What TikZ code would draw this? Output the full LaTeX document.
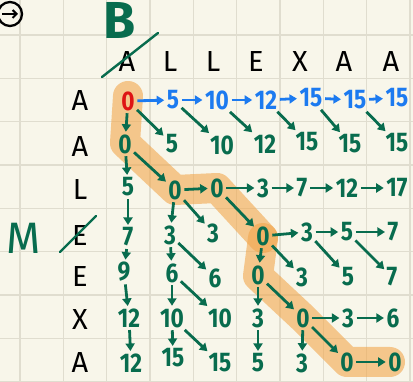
\documentclass[tikz,border=0pt]{standalone}
\usepackage{fontspec}
\setmainfont{Fira Sans}
\newfontfamily\numfont{Fira Sans}[FakeStretch=0.84]
\usetikzlibrary{arrows.meta}
\definecolor{paper}{RGB}{248,246,234}
\definecolor{gridc}{RGB}{224,221,207}
\definecolor{ink}{RGB}{8,108,78}
\definecolor{inkblue}{RGB}{28,122,240}
\definecolor{inkred}{RGB}{222,20,20}
\definecolor{hl}{RGB}{242,166,76}
\begin{document}
\begin{tikzpicture}[x=1pt,y=-1pt,
  gridline/.style={draw=gridc,line width=1.4pt},
  hlpath/.style={draw=hl,line width=30pt,line cap=round,line join=round,draw opacity=0.6},
  num/.style={font=\fontsize{27}{27}\numfont\bfseries,text=ink,inner sep=1.5pt},
  bnum/.style={num,text=inkblue},
  lbl/.style={font=\fontsize{29}{29}\selectfont,text=black,inner sep=1pt},
  garr/.style={draw=ink,line width=2.8pt,-{Triangle[length=7.5pt,width=9pt]},shorten <=1pt,shorten >=1pt},
  barr/.style={garr,draw=inkblue},
  slash/.style={draw=ink,line width=2.4pt,line cap=round}]
\useasboundingbox (0,0) rectangle (413,382);
\fill[paper] (0,0) rectangle (413,382);
\foreach \k in {0,...,9} {
  \draw[gridline] ({20+43.33*\k},0) -- ({20+43.33*\k},382);
  \draw[gridline] (0,{-8.3+43.33*\k}) -- (413,{-8.3+43.33*\k});
}
% highlighted path
\draw[hlpath] (128,96) -- (125,143) -- (175,190) -- (217,188) -- (263,238);
\draw[hlpath] (263,238) -- (258,276) -- (303,318) -- (347,362) -- (390,362);
% icon
\draw[line width=2.3pt] (10,14) circle (12);
\draw[line width=2pt,-{Straight Barb[length=4pt,width=8pt]}] (2,14) -- (18,14);
% handwritten green letters
\node[font=\fontsize{52}{52}\selectfont\bfseries,text=ink,inner sep=0pt] (B) at (120,20) {B};
\node[font=\fontsize{44}{44}\selectfont,text=ink] (M) at (24,238) {M};
% column headers
\foreach \n/\x/\t in {h1/127/A,h2/170/L,h3/213/L,h4/256/E,h5/300/X,h6/344/A,h7/391/A}
  \node[lbl] (\n) at (\x,62) {\t};
% row labels
\foreach \n/\y/\t in {v1/101/A,v2/147/A,v3/190/L,v4/236/E,v5/277/E,v6/320/X,v7/363/A}
  \node[lbl] (\n) at (80,\y) {\t};
\draw[slash] (102,77) -- (158,33);
\draw[slash] (60,252) -- (96,216);
% values
\node[num,text=inkred] (r1c1) at (128,101) {0};
\foreach \n/\x/\y/\t in {r1c2/173/100/5,r1c3/217/100/10,r1c4/266/100/12,r1c5/311/98/15,r1c6/355/100/15,r1c7/397/98/15}
  \node[bnum] (\n) at (\x,\y) {\t};
\foreach \n/\x/\y/\t in {
  r2c1/125/144/0,r2c2/172/144/5,r2c3/222/145/10,r2c4/265/144/12,r2c5/307/142/15,r2c6/350/144/15,r2c7/397/143/15,
  r3c1/128/187/5,r3c2/175/190/0,r3c3/217/188/0,r3c4/263/188/3,r3c5/302/188/7,r3c6/347/188/12,r3c7/397/188/17,
  r4c1/128/237/7,r4c2/170/235/3,r4c3/213/233/3,r4c4/263/236/0,r4c5/307/232/3,r4c6/347/232/5,r4c7/393/232/7,
  r5c1/124/272/9,r5c2/172/273/6,r5c3/215/278/6,r5c4/258/275/0,r5c5/302/277/3,r5c6/348/277/5,r5c7/392/277/7,
  r6c1/129/318/12,r6c2/172/318/10,r6c3/220/318/10,r6c4/258/318/3,r6c5/303/318/0,r6c6/348/318/3,r6c7/393/318/6,
  r7c1/131/363/12,r7c2/173/358/15,r7c3/220/363/15,r7c4/258/363/5,r7c5/302/363/3,r7c6/347/362/0,r7c7/395/362/0}
  \node[num] (\n) at (\x,\y) {\t};
% blue arrows
\foreach \a/\b in {r1c1/r1c2,r1c2/r1c3,r1c3/r1c4,r1c4/r1c5,r1c5/r1c6,r1c6/r1c7}
  \draw[barr] (\a) -- (\b);
% green arrows
\foreach \a/\b in {
  r1c1/r2c1,r1c1/r2c2,r1c2/r2c3,r1c3/r2c4,r1c4/r2c5,r1c5/r2c6,r1c6/r2c7,
  r2c1/r3c1,r2c1/r3c2,
  r3c2/r3c3,r3c3/r3c4,r3c4/r3c5,r3c5/r3c6,r3c6/r3c7,
  r3c1/r4c1,r3c2/r4c2,r3c2/r4c3,r3c3/r4c4,
  r4c4/r4c5,r4c5/r4c6,r4c6/r4c7,
  r4c1/r5c1,r4c2/r5c2,r4c2/r5c3,r4c4/r5c4,r4c4/r5c5,r4c5/r5c6,r4c6/r5c7,
  r5c1/r6c1,r5c2/r6c2,r5c2/r6c3,r5c4/r6c4,r5c4/r6c5,
  r6c5/r6c6,r6c6/r6c7,
  r6c1/r7c1,r6c2/r7c2,r6c2/r7c3,r6c4/r7c4,r6c5/r7c5,r6c5/r7c6,
  r7c6/r7c7}
  \draw[garr] (\a) -- (\b);
\end{tikzpicture}
\end{document}
